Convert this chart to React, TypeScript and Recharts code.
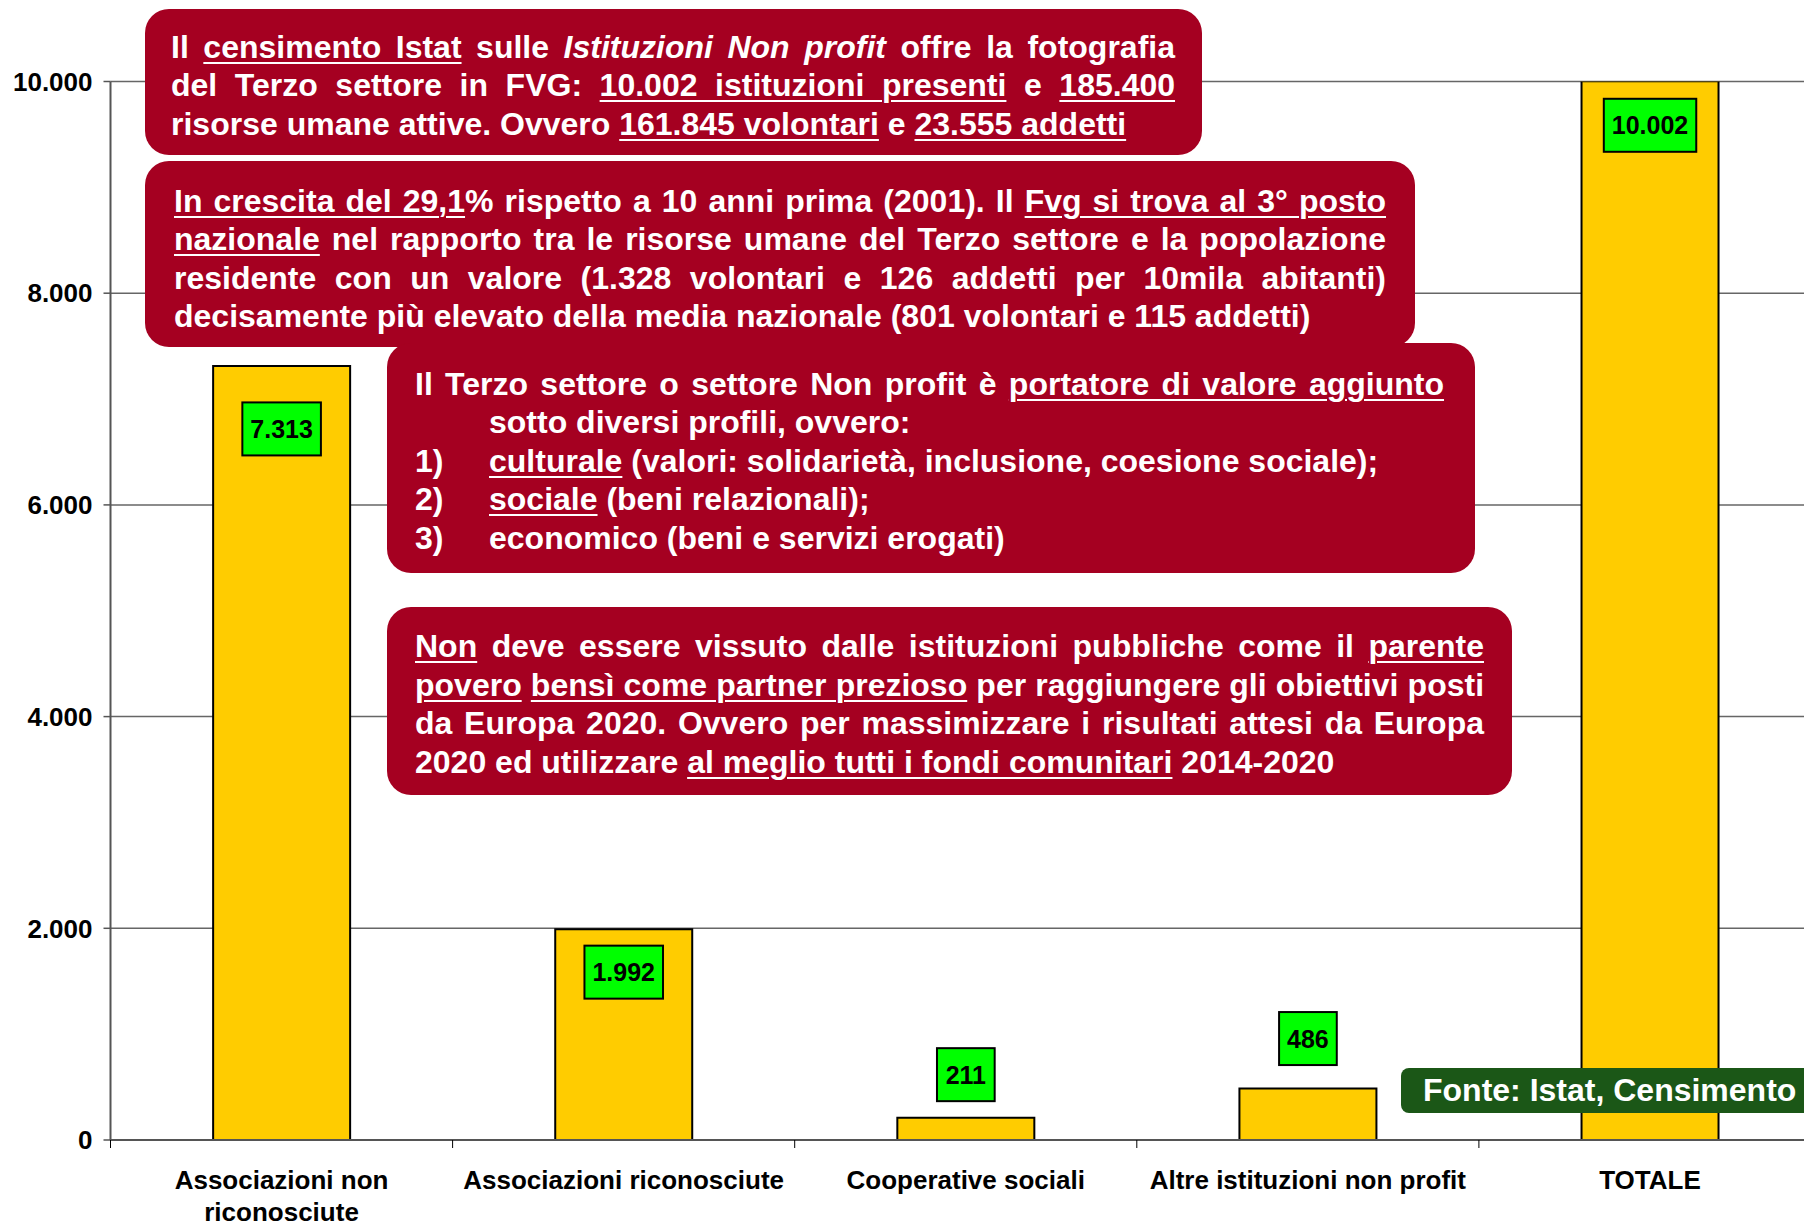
import React from "react";
import {
  BarChart,
  Bar,
  XAxis,
  YAxis,
  CartesianGrid,
  LabelList,
} from "recharts";

const CATEGORIES = [
  "Associazioni non\nriconosciute",
  "Associazioni riconosciute",
  "Cooperative sociali",
  "Altre istituzioni non profit",
  "TOTALE",
];
const ISTITUZIONI = [7313, 1992, 211, 486, 10002];
const Y_TICKS = [0, 2000, 4000, 6000, 8000, 10000];

// vertical shift of each green value box from the top of its bar
const LABEL_DY = [63, 43, -43, -50, 44];

const FONT = "'Liberation Sans', Arial, Helvetica, sans-serif";
const CHART_W = 1830;
const CHART_H = 1226;
const PLOT_LEFT = 110.5;
const PLOT_TOP = 81.5;
const PLOT_BOTTOM = 1140;
const PLOT_RIGHT = 1821;
const BAND = (PLOT_RIGHT - PLOT_LEFT) / CATEGORIES.length;

const RED = "#a50021";
const GREEN_DARK = "#1b5717";

const fmt = (v: number) => String(v).replace(/\B(?=(\d{3})+(?!\d))/g, ".");

const data = CATEGORIES.map((name, i) => ({ name, value: ISTITUZIONI[i] }));

const ValueBox = (props: any) => {
  const { x, y, width, index, value } = props;
  const text = fmt(Number(value));
  const fs = 25;
  const tw = [...text].reduce((s, c) => s + (c === "." ? 0.278 : 0.556), 0) * fs;
  const w = tw + 16;
  const h = 53;
  const cx = x + width / 2;
  const cy = y + LABEL_DY[index];
  return (
    <g>
      <rect
        x={cx - w / 2}
        y={cy - h / 2}
        width={w}
        height={h}
        fill="#00ff00"
        stroke="#000"
        strokeWidth={2}
      />
      <text
        x={cx}
        y={cy + 9}
        textAnchor="middle"
        fontFamily={FONT}
        fontWeight="bold"
        fontSize={fs}
        fill="#000"
      >
        {text}
      </text>
    </g>
  );
};

const CategoryTick = (props: any) => {
  const { x, payload, index } = props;
  const lines = String(payload.value).split("\n");
  const half = BAND / 2;
  return (
    <g>
      <line x1={x - half} x2={x - half} y1={PLOT_BOTTOM} y2={PLOT_BOTTOM + 8} stroke="#000" />
      {index === CATEGORIES.length - 1 && (
        <line x1={x + half} x2={x + half} y1={PLOT_BOTTOM} y2={PLOT_BOTTOM + 8} stroke="#000" />
      )}
      <text
        x={x}
        y={PLOT_BOTTOM + 49}
        textAnchor="middle"
        fontFamily={FONT}
        fontWeight="bold"
        fontSize={26}
        fill="#000"
      >
        {lines.map((l, i) => (
          <tspan key={i} x={x} dy={i === 0 ? 0 : 32}>
            {l}
          </tspan>
        ))}
      </text>
    </g>
  );
};

const u = (t: string) => (
  <span
    style={{
      textDecoration: "underline",
      textDecorationThickness: "2px",
      textUnderlineOffset: "4px",
    }}
  >
    {t}
  </span>
);

const Box = ({ left, top, right, bottom, color = RED, radius = 24 }: any) => (
  <div
    style={{
      position: "absolute",
      left,
      top,
      width: right - left,
      height: bottom - top,
      background: color,
      borderRadius: radius,
    }}
  />
);

// justifyRows: how many leading rows are stretched to the full width
const Lines = ({ left, top, width, lines, justifyRows }: any) => {
  const nJust = justifyRows ?? lines.length - 1;
  return (
    <div
      style={{
        position: "absolute",
        left,
        top,
        width,
        color: "#fff",
        fontFamily: FONT,
        fontWeight: "bold",
        fontSize: 32,
      }}
    >
      {lines.map((l: any, i: number) => {
        const just = i < nJust;
        return (
          <div
            key={i}
            style={{
              height: 38.5,
              lineHeight: "38.5px",
              textAlign: just ? "justify" : "left",
              textAlignLast: just ? "justify" : "left",
              whiteSpace: just ? "normal" : "nowrap",
            }}
          >
            {l}
          </div>
        );
      })}
    </div>
  );
};

const ListLine = ({ n, children }: any) => (
  <div style={{ display: "flex" }}>
    <div style={{ width: 74, flex: "none" }}>{n}</div>
    <div>{children}</div>
  </div>
);

export default function App() {
  return (
    <div
      style={{
        position: "fixed",
        left: 0,
        top: 0,
        width: 1804,
        height: 1226,
        overflow: "hidden",
        background: "#fff",
      }}
    >
      <BarChart
        width={CHART_W}
        height={CHART_H}
        data={data}
        margin={{ top: PLOT_TOP, right: CHART_W - PLOT_RIGHT, bottom: 0, left: 0 }}
        barCategoryGap="30%"
      >
        <CartesianGrid vertical={false} stroke="#666" strokeWidth={1.5} />
        <XAxis
          dataKey="name"
          height={CHART_H - PLOT_BOTTOM}
          interval={0}
          tickLine={false}
          axisLine={{ stroke: "#555", strokeWidth: 2 }}
          tick={<CategoryTick />}
        />
        <YAxis
          width={PLOT_LEFT}
          domain={[0, 10000]}
          ticks={Y_TICKS}
          allowDataOverflow
          tickFormatter={fmt}
          tickSize={7}
          tickMargin={11}
          axisLine={{ stroke: "#555", strokeWidth: 2 }}
          tickLine={{ stroke: "#555", strokeWidth: 1.5 }}
          tick={{ fontFamily: FONT, fontWeight: "bold", fontSize: 26, fill: "#000" }}
        />
        <Bar
          dataKey="value"
          fill="#ffcc00"
          stroke="#000"
          strokeWidth={2}
          isAnimationActive={false}
        >
          <LabelList dataKey="value" content={<ValueBox />} />
        </Bar>
      </BarChart>

      <Box left={145} top={9} right={1202} bottom={155} />
      <Lines
        left={171}
        top={27.5}
        width={1004}
        lines={[
          <>
            Il {u("censimento Istat")} sulle <i>Istituzioni Non profit</i> offre la fotografia
          </>,
          <>
            del Terzo settore in FVG: {u("10.002  istituzioni presenti")} e {u("185.400")}
          </>,
          <>
            risorse umane attive. Ovvero {u("161.845 volontari")} e {u("23.555 addetti")}
          </>,
        ]}
      />

      <Box left={145} top={161} right={1415} bottom={347} />
      <Lines
        left={174}
        top={181.5}
        width={1212}
        lines={[
          <>
            {u("In crescita del 29,1")}% rispetto a 10 anni prima (2001). Il {u("Fvg si trova al 3° posto")}
          </>,
          <>
            {u("nazionale")} nel rapporto tra le risorse umane del Terzo settore e la popolazione
          </>,
          <>residente con un valore (1.328 volontari e 126 addetti per 10mila abitanti)</>,
          <>decisamente più elevato della media nazionale (801 volontari e 115 addetti)</>,
        ]}
      />

      <Box left={387} top={343} right={1475} bottom={573} />
      <Lines
        left={415}
        top={364.5}
        width={1029}
        justifyRows={1}
        lines={[
          <>
            Il Terzo settore o settore Non profit è {u("portatore di valore aggiunto")}
          </>,
          <ListLine n="">sotto diversi profili, ovvero:</ListLine>,
          <ListLine n="1)">
            {u("culturale")} (valori: solidarietà, inclusione, coesione sociale);
          </ListLine>,
          <ListLine n="2)">{u("sociale")} (beni relazionali);</ListLine>,
          <ListLine n="3)">economico (beni e servizi erogati)</ListLine>,
        ]}
      />

      <Box left={387} top={607} right={1512} bottom={795} />
      <Lines
        left={415}
        top={627}
        width={1069}
        lines={[
          <>
            {u("Non")} deve essere vissuto dalle istituzioni pubbliche come il {u("parente")}
          </>,
          <>
            {u("povero")} {u("bensì come partner prezioso")} per raggiungere gli obiettivi posti
          </>,
          <>da Europa 2020. Ovvero per massimizzare i risultati attesi da Europa</>,
          <>
            2020 ed utilizzare {u("al meglio tutti i fondi comunitari")} 2014-2020
          </>,
        ]}
      />

      <Box left={1401} top={1068} right={1830} bottom={1113} color={GREEN_DARK} radius={8} />
      <div
        style={{
          position: "absolute",
          left: 1423,
          top: 1068,
          height: 45,
          lineHeight: "45px",
          color: "#fff",
          fontFamily: FONT,
          fontWeight: "bold",
          fontSize: 32,
          whiteSpace: "nowrap",
        }}
      >
        Fonte: Istat, Censimento
      </div>
    </div>
  );
}
